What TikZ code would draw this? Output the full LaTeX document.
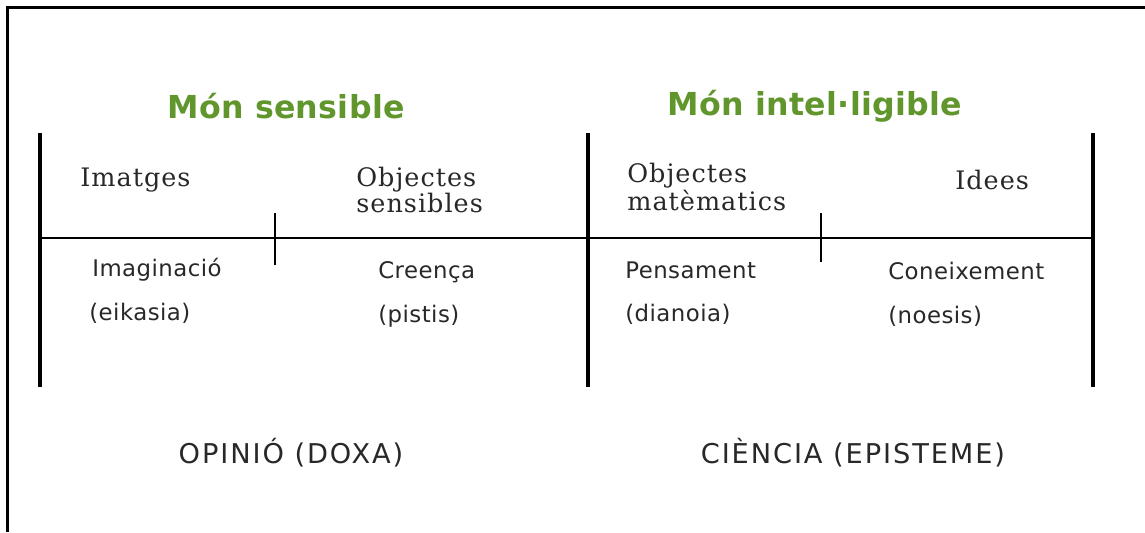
\documentclass[tikz,border=0pt]{standalone}
\usepackage{fontspec}
\setmainfont{DejaVu Sans}
\newfontfamily\worldfont{DejaVu Sans}[LetterSpace=1]
\newfontfamily\realmfont{DejaVu Serif}[LetterSpace=4]
\newfontfamily\facultyfont{DejaVu Sans}[LetterSpace=2]
\newfontfamily\knowfont{DejaVu Sans}[LetterSpace=7]
\usetikzlibrary{positioning}
\definecolor{mongreen}{RGB}{96,150,44}
\definecolor{inkgray}{RGB}{40,40,40}
\tikzstyle{world}=[font=\worldfont\fontsize{18}{21}\selectfont\bfseries, text=mongreen, inner sep=0pt]
\tikzstyle{realm}=[font=\realmfont\fontsize{14.5}{13}\selectfont, text=inkgray, align=left, anchor=west, inner sep=0pt]
\tikzstyle{faculty}=[font=\facultyfont\fontsize{13}{14}\selectfont, text=inkgray, anchor=west, inner sep=0pt]
\tikzstyle{knowledge}=[font=\knowfont\fontsize{15.5}{17}\selectfont, text=inkgray, inner sep=0pt]
\tikzstyle{rule}=[line width=1.8pt]
\tikzstyle{tick}=[line width=0.8pt]

\begin{document}
\begin{tikzpicture}[x=0.02cm, y=-0.02cm]
    \useasboundingbox (0,0) rectangle (1145,532);
    % frame
    \draw[line width=1.7pt] (1145,7.5) -- (7.5,7.5) -- (7.5,532);
    % grid
    \coordinate (TL) at (40,133);
    \coordinate (TM) at (588,133);
    \coordinate (TR) at (1093,133);
    \coordinate (BL) at (40,387);
    \coordinate (BM) at (588,387);
    \coordinate (BR) at (1093,387);
    \coordinate (HL) at (40,238);
    \coordinate (HR) at (1093,238);
    \coordinate (K1a) at (275,213);
    \coordinate (K1b) at (275,265);
    \coordinate (K2a) at (821,213);
    \coordinate (K2b) at (821,262);
    \draw[rule] (TL) -- (BL);
    \draw[rule] (TM) -- (BM);
    \draw[rule] (TR) -- (BR);
    \draw[rule, line width=1.4pt] (HL) -- (HR);
    \draw[tick] (K1a) -- (K1b);
    \draw[tick] (K2a) -- (K2b);
    % titles
    \node[world] (sens) at (286,106) {Món sensible};
    \node[world] (intel) at (815,106) {Món intel·ligible};
    % realms
    \node[realm] (imatges) at (80,180) {Imatges};
    \node[realm] (objsens) at (356,190) {Objectes\\sensibles};
    \node[realm] (objmat) at (627,187) {Objectes\\matèmatics};
    \node[realm] (idees) at (955,180) {Idees};
    % faculties
    \node[faculty] (imag) at (92,270) {Imaginació};
    \node[faculty] (eik) at (89,313) {(eikasia)};
    \node[faculty] (cre) at (378,272) {Creença};
    \node[faculty] (pis) at (378,316) {(pistis)};
    \node[faculty] (pen) at (625,270) {Pensament};
    \node[faculty] (dia) at (625,314) {(dianoia)};
    \node[faculty] (con) at (888,271) {Coneixement};
    \node[faculty] (noe) at (888,316) {(noesis)};
    % kinds of knowledge
    \node[knowledge] (doxa) at (291,453) {OPINIÓ (DOXA)};
    \node[knowledge] (epis) at (853,453) {CIÈNCIA (EPISTEME)};
\end{tikzpicture}
\end{document}
